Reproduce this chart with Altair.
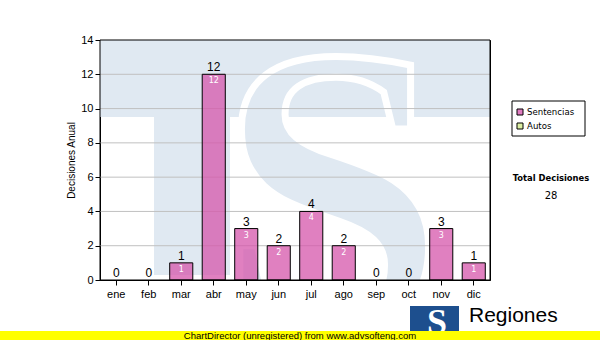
import altair as alt
import pandas as pd

months = ["ene", "feb", "mar", "abr", "may", "jun", "jul", "ago", "sep", "oct", "nov", "dic"]
sentencias = [0, 0, 1, 12, 3, 2, 4, 2, 0, 0, 3, 1]
autos = [0, 0, 0, 0, 0, 0, 0, 0, 0, 0, 0, 0]
y_ticks = [0, 2, 4, 6, 8, 10, 12, 14]
legend_labels = ["Sentencias", "Autos"]
legend_colors = ["#e07cc0", "#dcefa4"]
total_title = "Total Decisiones"
total_value = sum(sentencias) + sum(autos)

df = pd.DataFrame({
    "mes": months,
    "sentencias": sentencias,
    "autos": autos,
})
df["total"] = df["sentencias"] + df["autos"]
df["inner"] = [str(v) if v > 0 else "" for v in sentencias]

grid_df = pd.DataFrame({"v": y_ticks[1:-1]})
one = pd.DataFrame({"a": [0]})

WM = "#e0e9f2"
W, H = 390, 240

xscale = alt.Scale(paddingInner=0.29, paddingOuter=0.145)
xenc = alt.X("mes:N", sort=months, title=None, scale=xscale,
             axis=alt.Axis(labelAngle=0, labelFont="Liberation Sans", labelFontSize=11,
                           labelColor="#000", tickColor="#000", domainColor="#000",
                           tickSize=5, labelPadding=3, grid=False))
xplain = alt.X("mes:N", sort=months, scale=xscale, axis=None)
yscale = alt.Scale(domain=[0, 14], nice=False)

base = alt.Chart(df)

# watermark
wm_top = alt.Chart(one).mark_rect(color=WM).encode(
    x=alt.value(0), x2=alt.value(W), y=alt.value(0), y2=alt.value(77))
wm_stem = alt.Chart(one).mark_rect(color=WM).encode(
    x=alt.value(54), x2=alt.value(130), y=alt.value(77), y2=alt.value(235))
wm_s = alt.Chart(one).mark_text(
    text="S", font="Liberation Serif", fontWeight="bold", fontSize=410,
    fill=WM, stroke="white", strokeWidth=7, align="center", baseline="alphabetic", clip=True
).encode(x=alt.value(232), y=alt.value(288))

grid = alt.Chart(grid_df).mark_rule(color="#c0c0c0", strokeWidth=1).encode(
    y=alt.Y("v:Q", scale=yscale, axis=None), x=alt.value(0), x2=alt.value(W))

axis_anchor = base.mark_point(opacity=0).encode(
    x=xenc,
    y=alt.Y("total:Q", scale=yscale, title="Decisiones Anual",
            axis=alt.Axis(values=y_ticks, grid=False, labelOverlap=False,
                          labelFont="Liberation Sans",
                          labelFontSize=11, labelColor="#000", tickColor="#000",
                          domainColor="#000", tickSize=5, labelPadding=2,
                          titleFont="Liberation Sans", titleFontSize=10,
                          titleFontWeight="normal", titleColor="#000", titlePadding=4)),
)

bars = base.transform_filter("datum.sentencias > 0").mark_bar(
    fill="#d555ab", fillOpacity=0.75, stroke="#000", strokeWidth=1).encode(
    x=xplain,
    y=alt.Y("sentencias:Q", scale=yscale, axis=None),
)

top_labels = base.mark_text(font="Liberation Sans", fontSize=12, color="#000",
                            baseline="alphabetic", dy=-3).encode(
    x=xplain, y=alt.Y("total:Q", scale=yscale, axis=None), text="total:Q")

inner_labels = base.mark_text(font="DejaVu Sans", fontSize=8, color="#fff",
                              baseline="top", dy=3).encode(
    x=xplain, y=alt.Y("sentencias:Q", scale=yscale, axis=None), text="inner:N")

# plot frame
frame = alt.Chart(one).mark_rect(fillOpacity=0, fill="white", stroke="#000", strokeWidth=1).encode(
    x=alt.value(0), x2=alt.value(W), y=alt.value(0), y2=alt.value(H))

# legend box
leg_box = alt.Chart(one).mark_rect(fill="white", stroke="#000", strokeWidth=1).encode(
    x=alt.value(412), x2=alt.value(485), y=alt.value(61), y2=alt.value(96))
leg_df = pd.DataFrame({"label": legend_labels, "color": legend_colors,
                       "y0": [69, 83], "y1": [75, 89], "ty": [72, 86]})
leg_sw = alt.Chart(leg_df).mark_rect(stroke="#000", strokeWidth=1).encode(
    x=alt.value(417), x2=alt.value(423),
    y=alt.Y("y0:Q", scale=None, axis=None), y2="y1:Q",
    fill=alt.Fill("color:N", scale=None))
leg_tx = alt.Chart(leg_df).mark_text(font="DejaVu Sans", fontSize=8.6, align="left",
                                     baseline="middle", color="#000").encode(
    x=alt.value(427), y=alt.Y("ty:Q", scale=None, axis=None), text="label:N")

tot_df = pd.DataFrame({"t": [total_title, str(total_value)], "ty": [138, 156]})
tot1 = alt.Chart(tot_df.iloc[[0]]).mark_text(font="DejaVu Sans", fontSize=8.4, fontWeight="bold",
                                             align="center", baseline="middle", color="#000").encode(
    x=alt.value(451), y=alt.Y("ty:Q", scale=None, axis=None), text="t:N")
tot2 = alt.Chart(tot_df.iloc[[1]]).mark_text(font="DejaVu Sans", fontSize=10,
                                             align="center", baseline="middle", color="#000").encode(
    x=alt.value(451), y=alt.Y("ty:Q", scale=None, axis=None), text="t:N")

# logo
logo_rect = alt.Chart(one).mark_rect(color="#1d4f8e").encode(
    x=alt.value(310), x2=alt.value(359), y=alt.value(266), y2=alt.value(292))
logo_s = alt.Chart(one).mark_text(text="S", font="Liberation Serif", fontWeight="bold",
                                  fontSize=36, color="white", align="center",
                                  baseline="alphabetic").encode(
    x=alt.value(337), y=alt.value(294))
logo_t = alt.Chart(one).mark_text(text="Regiones", font="Liberation Sans", fontSize=21,
                                  color="#000", align="left", baseline="alphabetic").encode(
    x=alt.value(369), y=alt.value(282))
yellow = alt.Chart(one).mark_rect(color="#ffff00").encode(
    x=alt.value(-100), x2=alt.value(500), y=alt.value(291), y2=alt.value(300))
footer = alt.Chart(one).mark_text(text="ChartDirector (unregistered) from www.advsofteng.com",
                                  font="Liberation Sans", fontSize=9.5, color="#000",
                                  align="center", baseline="middle").encode(
    x=alt.value(200), y=alt.value(296))

chart = alt.layer(
    wm_top, wm_stem, wm_s, grid, axis_anchor, bars, top_labels, inner_labels, frame,
    leg_box, leg_sw, leg_tx, tot1, tot2,
    logo_rect, logo_s, logo_t, yellow, footer
).resolve_axis(x="independent", y="independent").properties(
    width=W, height=H,
    autosize=alt.AutoSizeParams(type="none"),
    padding={"left": 100, "top": 40, "right": 110, "bottom": 60},
    background="white",
).configure_view(stroke="#000", strokeWidth=1)

chart.save("out.html", embed_options={"renderer": "svg", "actions": False})
